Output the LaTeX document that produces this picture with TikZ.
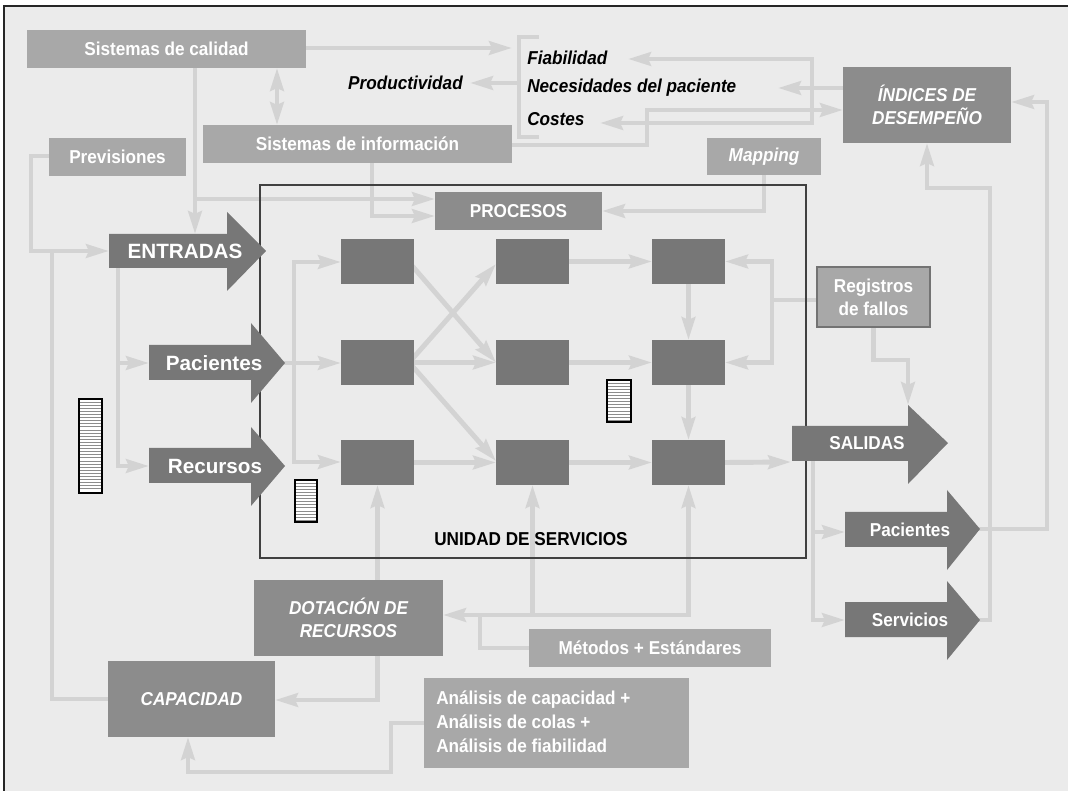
\documentclass[tikz,border=0pt]{standalone}
\usepackage{fontspec}
\setmainfont{Liberation Sans}[FakeStretch=0.92]
\newfontfamily\widefont{Liberation Sans}
\usetikzlibrary{arrows.meta,calc}
\pgfdeclarelayer{bgl}
\pgfdeclarelayer{lines}
\pgfsetlayers{bgl,lines,main}
\definecolor{bgC}{HTML}{EBEBEB}
\definecolor{lnC}{HTML}{D3D3D3}
\definecolor{medC}{HTML}{A8A8A8}
\definecolor{darkC}{HTML}{8C8C8C}
\definecolor{procC}{HTML}{777777}
\definecolor{frameC}{HTML}{404040}
\newcommand\bx[7]{\node[#6, minimum width={(#4-#2)*0.75pt}, minimum height={(#5-#3)*0.75pt}] (#1) at ({(#2+#4)/2},{(#3+#5)/2}) {#7};}
\newcommand\hatchbox[4]{%
  \fill[white] (#1,#2) rectangle (#3,#4);
  \pgfmathsetmacro\hbN{int(floor((#4-#2-1)/3.1))}
  \foreach \k in {1,...,\hbN}{\draw[black!45,line width=0.7pt] (#1,{#2+\k*3.1}) -- (#3,{#2+\k*3.1});}
  \draw[black,line width=0.8pt] (#1,#2) rectangle (#3,#4);}
\begin{document}
\begin{tikzpicture}[x=0.75pt,y=-0.75pt,
  conn/.style={draw=lnC,line width=3.7pt,line join=miter,line cap=rect},
  arrw/.style={-{Stealth[length=17pt,width=10pt,inset=2pt]}},
  arrwb/.style={{Stealth[length=17pt,width=10pt,inset=2pt]}-{Stealth[length=17pt,width=10pt,inset=2pt]}},
  bxs/.style={inner sep=0pt,outer sep=0pt,text=white,font=\fontsize{14}{17.5}\selectfont\bfseries,align=center},
  mbox/.style={bxs,fill=medC},
  dbox/.style={bxs,fill=darkC},
  pbox/.style={inner sep=0pt,outer sep=0pt,fill=procC},
  btxt/.style={inner sep=0pt,text=black,font=\fontsize{14}{17}\selectfont\bfseries\itshape},
  atxt/.style={inner sep=0pt,text=white,font=\widefont\fontsize{15.5}{18}\selectfont\bfseries},
  atxs/.style={inner sep=0pt,text=white,font=\fontsize{14}{17}\selectfont\bfseries},
  bigarr/.style={fill=procC}]
\useasboundingbox (0,0) rectangle (1068,791);
\begin{pgfonlayer}{bgl}
\fill[white] (0,0) rectangle (1068,791);
\fill[bgC] (4,6) rectangle (1068,791);
\draw[black!85,line width=0.8pt] (4,791) -- (4,6) -- (1068,6);
\end{pgfonlayer}

% frame of the service unit
\draw[frameC,line width=1.8pt] (260,185) rectangle (806,558);

% boxes
\bx{cal}{27}{30}{306}{68}{mbox}{Sistemas de calidad}
\bx{info}{203}{125}{512}{163}{mbox}{Sistemas de información}
\bx{prev}{49}{138}{186}{176}{mbox}{Previsiones}
\bx{map}{707}{138}{821}{175}{mbox}{\itshape Mapping}
\bx{ind}{843}{67}{1011}{143}{dbox}{\itshape ÍNDICES DE\\\itshape DESEMPEÑO}
\bx{proc}{435}{192}{602}{230}{dbox}{PROCESOS}
\bx{reg}{817}{267}{930}{327}{mbox,draw=black!55,line width=0.9pt}{Registros\\de fallos}
\bx{dot}{254}{580}{443}{656}{dbox}{\itshape DOTACIÓN DE\\\itshape RECURSOS}
\bx{cap}{108}{661}{275}{737}{dbox}{\itshape CAPACIDAD}
\bx{met}{529}{629}{771}{667}{mbox}{Métodos + Estándares}
\bx{ana}{424}{678}{689}{768}{mbox}{}
\node[atxs,align=left,anchor=west,font=\fontsize{14}{18}\selectfont\bfseries] (anatxt) at (436,722) {Análisis de capacidad +\\Análisis de colas +\\Análisis de fiabilidad};

% process boxes
\bx{a1}{341}{239}{414}{284}{pbox}{}
\bx{a2}{341}{340}{414}{385}{pbox}{}
\bx{a3}{341}{440}{414}{485}{pbox}{}
\bx{b1}{496}{239}{569}{284}{pbox}{}
\bx{b2}{496}{340}{569}{385}{pbox}{}
\bx{b3}{496}{440}{569}{485}{pbox}{}
\bx{c1}{652}{239}{725}{284}{pbox}{}
\bx{c2}{652}{340}{725}{385}{pbox}{}
\bx{c3}{652}{440}{725}{485}{pbox}{}

% texts
\node[btxt,anchor=west] (fia) at (527,58) {Fiabilidad};
\node[btxt,anchor=west] (nec) at (527,88) {Necesidades del paciente};
\node[btxt,anchor=west] (cos) at (527,119) {Costes};
\node[btxt,anchor=east] (prod) at (463,83) {Productividad};
\node[inner sep=0pt,text=black,font=\fontsize{14}{17}\selectfont\bfseries] (uni) at (531,539) {UNIDAD DE SERVICIOS};

% big arrows
\fill[bigarr] (109,234) -- (227,234) -- (227,212) -- (266,251) -- (227,291) -- (227,268) -- (109,268) -- cycle;
\node[atxt] (entr) at (185,251) {ENTRADAS};
\fill[bigarr] (149,345) -- (251,345) -- (251,323) -- (285,363) -- (251,403) -- (251,380) -- (149,380) -- cycle;
\node[atxt] (pacin) at (214,363) {Pacientes};
\fill[bigarr] (149,448) -- (251,448) -- (251,427) -- (285,466) -- (251,506) -- (251,483) -- (149,483) -- cycle;
\node[atxt] (rec) at (215,466) {Recursos};
\fill[bigarr] (792,426) -- (908,426) -- (908,405) -- (948,443) -- (908,484) -- (908,461) -- (792,461) -- cycle;
\node[atxs] (sal) at (867,443) {SALIDAS};
\fill[bigarr] (845,512) -- (947,512) -- (947,490) -- (980,529) -- (947,570) -- (947,547) -- (845,547) -- cycle;
\node[atxs] (pacout) at (910,530) {Pacientes};
\fill[bigarr] (845,602) -- (947,602) -- (947,581) -- (980,620) -- (947,660) -- (947,637) -- (845,637) -- cycle;
\node[atxs] (serv) at (910,620) {Servicios};

\coordinate (entrW) at (109,251);
\coordinate (entrN) at (195,234);
\coordinate (entrS) at (118,268);
\coordinate (pacinW) at (149,363);
\coordinate (pacinT) at (285,363);
\coordinate (recW) at (149,466);
\coordinate (salSW) at (791,462);
\coordinate (salS) at (813,461);
\coordinate (salN) at (908,405);
\coordinate (pacoutW) at (845,532);
\coordinate (pacoutT) at (980,529);
\coordinate (servW) at (845,620);
\coordinate (servT) at (980,620);

% hatched stores
\hatchbox{79}{399}{102}{493}
\hatchbox{295}{480}{317}{522}
\hatchbox{607}{380}{631}{422}

% connectors
\begin{pgfonlayer}{lines}
\draw[conn,arrw] (cal.east |- 0,48) -- (512,48);
\draw[conn] (537,37) -- (519,37) -- (519,137) -- (537,137);
\draw[conn,arrw] (519,83) -- (470,83);
\draw[conn] (812,59) -- (812,123);
\draw[conn,arrw] (ind.west |- 0,88) -- (778,88);
\draw[conn,arrw] (812,59) -- (628,59);
\draw[conn,arrw] (812,123) -- (600,123);
\draw[conn,arrw] (info.east |- 0,145) -- (647,145) -- (647,110) -- (ind.west |- 0,110);
\draw[conn,arrwb] (cal.south -| 277,0) -- (info.north -| 277,0);
\draw[conn,arrw] (cal.south -| 195,0) -- (entrN);
\draw[conn,arrw] (195,199) -- (proc.west |- 0,199);
\draw[conn,arrw] (info.south -| 372,0) -- (372,216) -- (proc.west |- 0,216);
\draw[conn,arrw] (map.south -| 764,0) -- (764,211) -- (proc.east |- 0,211);
\draw[conn,arrw] (prev.west |- 0,156) -- (31,156) -- (31,251) -- (entrW);
\draw[conn] (cap.west |- 0,699) -- (52,699) -- (52,251);
\draw[conn,arrw] (entrS) -- (118,466) -- (recW);
\draw[conn,arrw] (118,363) -- (pacinW);
\draw[conn,arrw] (pacinT) -- (a2.west |- 0,363);
\draw[conn] (294,262) -- (294,462);
\draw[conn,arrw] (294,262) -- (a1.west |- 0,262);
\draw[conn,arrw] (294,462) -- (a3.west |- 0,462);
\draw[conn,arrw] (a1.east |- 0,268) -- (b2.west);
\draw[conn,arrw] (a2.east |- 0,357) -- (b1.west |- 0,264);
\draw[conn,arrw] (a2.east |- 0,368) -- (b3.west |- 0,461);
\draw[conn,arrw] (a2.east) -- (b2.west);
\draw[conn,arrw] (a3.east) -- (b3.west);
\draw[conn,arrw] (b1.east) -- (c1.west);
\draw[conn,arrw] (b2.east) -- (c2.west);
\draw[conn,arrw] (b3.east) -- (c3.west);
\draw[conn,arrw] (c1.south) -- (c2.north);
\draw[conn,arrw] (c2.south) -- (c3.north);
\draw[conn,arrw] (c3.east) -- (salSW);
\draw[conn] (reg.west |- 0,300) -- (772,300);
\draw[conn] (772,261.5) -- (772,362.5);
\draw[conn,arrw] (772,261.5) -- (c1.east);
\draw[conn,arrw] (772,362.5) -- (c2.east);
\draw[conn,arrw] (reg.south) -- (873.5,360) -- (908,360) -- (salN);
\draw[conn,arrw] (salS) -- (813,620) -- (servW);
\draw[conn,arrw] (813,532) -- (pacoutW);
\draw[conn,arrw] (pacoutT) -- (1047,529) -- (1047,102) -- (ind.east |- 0,102);
\draw[conn,arrw] (servT) -- (990,620) -- (990,188) -- (927,188) -- (ind.south);
\draw[conn,arrw] (dot.north -| 377.5,0) -- (a3.south);
\draw[conn,arrw] (dot.south -| 377.5,0) -- (377.5,700) -- (cap.east |- 0,700);
\draw[conn,arrw] (met.west |- 0,648) -- (480,648) -- (480,615) -- (dot.east |- 0,615);
\draw[conn] (480,615) -- (688.5,615);
\draw[conn,arrw] (532.5,615) -- (b3.south);
\draw[conn,arrw] (688.5,615) -- (c3.south);
\draw[conn,arrw] (ana.west |- 0,723) -- (391,723) -- (391,772) -- (188,772) -- (cap.south -| 188,0);
\end{pgfonlayer}
\end{tikzpicture}
\end{document}
